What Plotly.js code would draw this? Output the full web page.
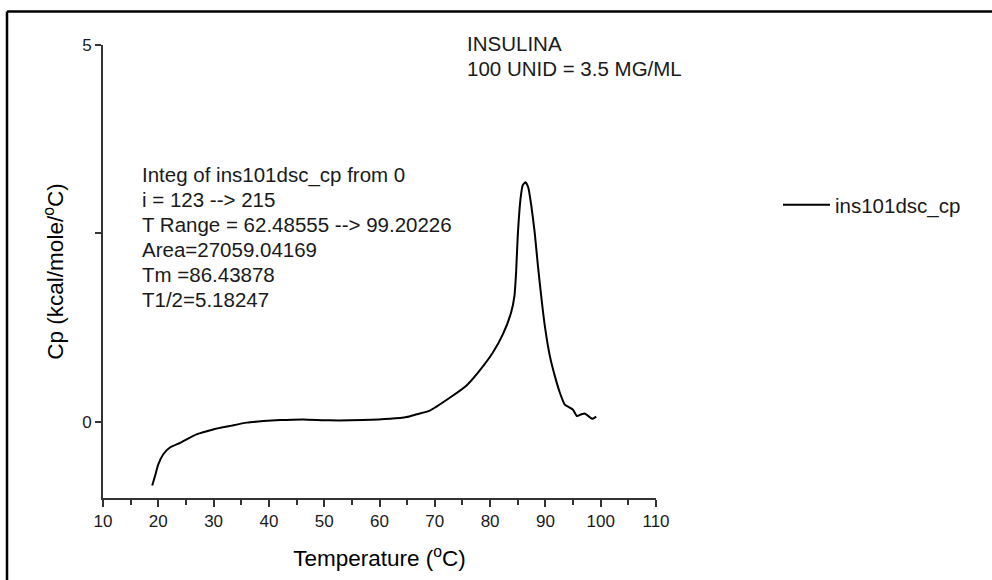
<!DOCTYPE html>
<html>
<head>
<meta charset="utf-8">
<script src="https://cdn.plot.ly/plotly-3.0.1.min.js"></script>
<style>html,body{margin:0;padding:0;background:#fff;}#chart{width:992px;height:580px;}</style>
</head>
<body>
<div id="chart"></div>
<script>
// ---- data ----
var seriesName = "ins101dsc_cp";
var temperature = [18.9, 19.4, 20.0, 20.9, 22.1, 23.9, 26.9, 29.9, 32.9, 36.0, 39.0, 42.0, 46.2, 51.0, 57.0, 61.9, 64.9, 66.7, 69.1, 72.7, 75.7, 78.1, 80.5, 82.3, 83.8, 84.4, 84.7, 85.0, 85.5, 85.9, 86.4, 86.9, 87.45, 88.05, 88.65, 89.3, 89.9, 90.8, 91.7, 92.6, 93.5, 94.4, 95.0, 95.7, 96.5, 97.1, 97.9, 98.5, 99.2];
var cp = [-0.845, -0.72, -0.565, -0.43, -0.34, -0.28, -0.166, -0.10, -0.055, -0.01, 0.01, 0.024, 0.033, 0.02, 0.024, 0.04, 0.064, 0.10, 0.15, 0.32, 0.48, 0.68, 0.92, 1.16, 1.45, 1.67, 1.98, 2.47, 2.96, 3.14, 3.18, 3.11, 2.87, 2.52, 2.07, 1.63, 1.27, 0.875, 0.61, 0.39, 0.23, 0.19, 0.16, 0.077, 0.10, 0.11, 0.07, 0.04, 0.07];
var xTickVals = [10, 20, 30, 40, 50, 60, 70, 80, 90, 100, 110];
var yTickVals = [0, 5];
var headerLines = ["INSULINA", "100 UNID = 3.5 MG/ML"];
var infoLines = ["Integ of ins101dsc_cp from 0", "i = 123 --> 215", "T Range = 62.48555 --> 99.20226", "Area=27059.04169", "Tm =86.43878", "T1/2=5.18247"];
var xTitle = "Temperature (<sup>o</sup>C)";
var yTitle = "Cp (kcal/mole/<sup>o</sup>C)";

// ---- layout helpers ----
var FONT = "Liberation Sans, Arial, sans-serif";
var L = 103, R = 336, T = 45, B = 82;
var PW = 992 - L - R, PH = 580 - T - B;
function px2x(p) { return (p - L) / PW; }
function py2y(p) { return (580 - B - p) / PH; }

var annotations = [];
headerLines.forEach(function (t, i) {
  annotations.push({text: t, xref: "paper", yref: "paper", x: px2x(465), y: py2y(43.6 + i * 24.8),
    xanchor: "left", yanchor: "middle", showarrow: false, font: {family: FONT, size: 20.5, color: "#1a1a1a"}});
});
infoLines.forEach(function (t, i) {
  annotations.push({text: t, xref: "paper", yref: "paper", x: px2x(140), y: py2y(174.6 + i * 25),
    xanchor: "left", yanchor: "middle", showarrow: false, font: {family: FONT, size: 20.5, color: "#1a1a1a"}});
});

var trace = {
  x: temperature, y: cp, name: seriesName, type: "scatter", mode: "lines",
  line: {color: "#000", width: 2, shape: "spline", smoothing: 0.5}
};

var layout = {
  width: 992, height: 580,
  margin: {l: L, r: R, t: T, b: B, pad: 0},
  paper_bgcolor: "#fff", plot_bgcolor: "#fff",
  font: {family: FONT, color: "#1a1a1a"},
  showlegend: true,
  legend: {x: px2x(778), y: py2y(205), xanchor: "left", yanchor: "middle",
    font: {family: FONT, size: 20.5, color: "#1a1a1a"}, bgcolor: "rgba(0,0,0,0)", itemwidth: 47},
  xaxis: {
    range: [10, 110], tickvals: xTickVals, ticks: "outside", ticklen: 7, tickwidth: 2, tickcolor: "#333",
    minor: {dtick: 5, ticks: "outside", ticklen: 5, tickwidth: 2, tickcolor: "#333"},
    showline: true, linewidth: 2, linecolor: "#333", showgrid: false, zeroline: false,
    tickfont: {family: FONT, size: 17, color: "#1a1a1a"},
    title: {text: xTitle, font: {family: FONT, size: 22.5, color: "#000"}, standoff: 20}
  },
  yaxis: {
    range: [-1.01, 5], tickvals: yTickVals, ticks: "outside", ticklen: 6, tickwidth: 2, tickcolor: "#333",
    minor: {dtick: 2.5, tick0: 0, ticks: "outside", ticklen: 6, tickwidth: 2, tickcolor: "#333"},
    showline: true, linewidth: 2, linecolor: "#333", showgrid: false, zeroline: false,
    tickfont: {family: FONT, size: 17, color: "#1a1a1a"},
    title: {text: yTitle, font: {family: FONT, size: 22.5, color: "#000"}, standoff: 12}
  },
  annotations: annotations,
  shapes: [
    {type: "line", xref: "paper", yref: "paper", x0: px2x(7), x1: px2x(7), y0: py2y(11.5), y1: py2y(600), line: {color: "#000", width: 2.5}},
    {type: "line", xref: "paper", yref: "paper", x0: px2x(7), x1: px2x(1000), y0: py2y(11.5), y1: py2y(11.5), line: {color: "#000", width: 2.5}}
  ]
};

Plotly.newPlot("chart", [trace], layout, {displayModeBar: false, staticPlot: true});
</script>
</body>
</html>
